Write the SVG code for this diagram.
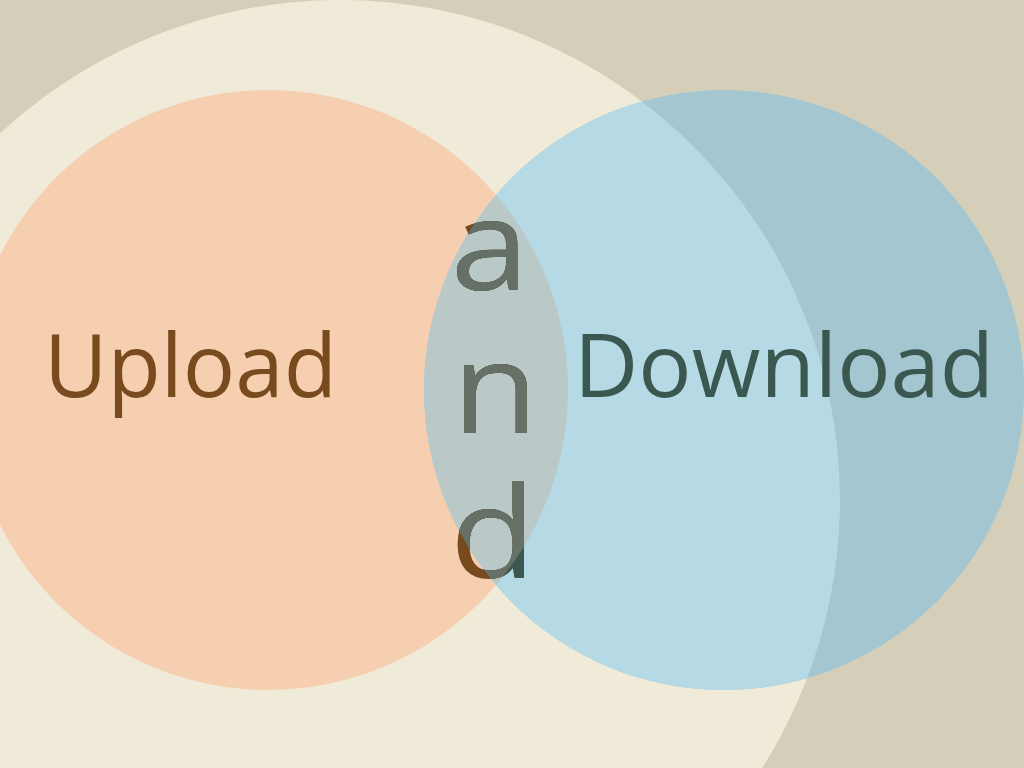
<svg xmlns="http://www.w3.org/2000/svg" width="1024" height="768" viewBox="0 0 1024 768">
<defs>
<style>
.t{font-family:"Open Sans","DejaVu Sans",sans-serif;}
.up{fill:#774b1e;font-size:88px;}
.dn{fill:#3b5850;font-size:88px;}
.and{font-size:126px;text-anchor:middle;}
</style>
<clipPath id="cCream"><circle cx="340" cy="500" r="500"/></clipPath>
<clipPath id="cOrange"><circle cx="268" cy="390" r="300"/></clipPath>
<clipPath id="cBlue"><circle cx="724" cy="390" r="300"/></clipPath>
<g id="andText" transform="translate(493 0) scale(1.12 1) translate(-493 0)">
<text x="490" y="290">a</text>
<text x="495" y="433">n</text>
<text x="493" y="578">d</text>
</g>
</defs>
<rect width="1024" height="768" fill="#d5cfb9"/>
<circle id="cream" cx="340" cy="500" r="500" fill="#f0ead9"/>
<g id="upload">
<circle cx="268" cy="390" r="300" fill="#f5cfb0"/>
<text class="t up" x="44" y="397" textLength="293" lengthAdjust="spacingAndGlyphs">Upload</text>
</g>
<g id="download">
<circle cx="724" cy="390" r="300" fill="#a3c6d0"/>
<circle cx="724" cy="390" r="300" fill="#b5dae5" clip-path="url(#cCream)"/>
<circle cx="724" cy="390" r="300" fill="#bac8c7" clip-path="url(#cOrange)"/>
<text class="t dn" x="574" y="397" textLength="420" lengthAdjust="spacingAndGlyphs">Download</text>
</g>
<g id="and" class="t and">
<use href="#andText" fill="#774b1e"/>
<use href="#andText" fill="#3b5850" clip-path="url(#cBlue)"/>
<g clip-path="url(#cOrange)"><use href="#andText" fill="#667067" clip-path="url(#cBlue)"/></g>
</g>
</svg>
